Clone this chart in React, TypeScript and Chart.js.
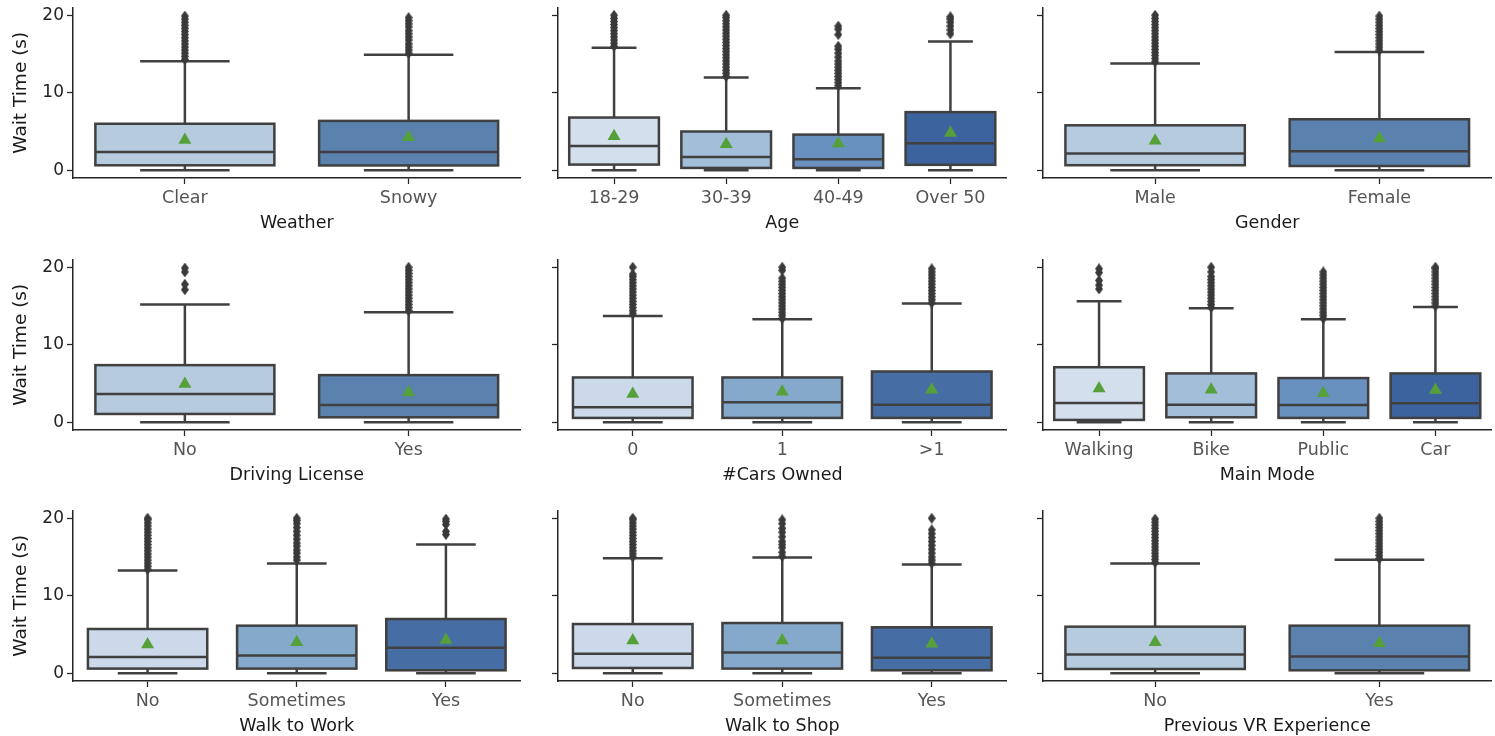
import React, { useEffect, useRef } from 'react';
import { Chart, registerables } from 'chart.js';
Chart.register(...registerables);

// ---------- data ----------
const yTicks = [0, 10, 20];

const weatherCats = ['Clear', 'Snowy'];
const weatherQ1 = [0.64, 0.62];
const weatherMed = [2.36, 2.36];
const weatherQ3 = [6.0, 6.37];
const weatherLo = [0, 0];
const weatherHi = [14.06, 14.9];
const weatherMean = [3.9, 4.25];
const weatherOut = [
  [14.3, 14.7, 15.1, 15.5, 15.9, 16.3, 16.7, 17.1, 17.5, 17.9, 18.3, 18.7, 19.1, 19.5, 19.9],
  [15.1, 15.5, 15.9, 16.3, 16.8, 17.2, 17.6, 18.0, 18.5, 18.9, 19.3, 19.7],
];

const ageCats = ['18-29', '30-39', '40-49', 'Over 50'];
const ageQ1 = [0.73, 0.3, 0.3, 0.7];
const ageMed = [3.14, 1.72, 1.42, 3.5];
const ageQ3 = [6.8, 5.0, 4.6, 7.5];
const ageLo = [0, 0, 0, 0];
const ageHi = [15.8, 11.96, 10.58, 16.6];
const ageMean = [4.4, 3.35, 3.44, 4.8];
const ageOut = [
  [16.0, 16.4, 16.8, 17.2, 17.6, 18.0, 18.4, 18.8, 19.2, 19.6, 20.0],
  [12.1, 12.5, 12.9, 13.3, 13.7, 14.1, 14.5, 14.9, 15.3, 15.7, 16.1, 16.5, 16.9, 17.3, 17.7, 18.1, 18.5, 18.9, 19.3, 19.7, 20.0],
  [10.9, 11.3, 11.7, 12.1, 12.5, 12.9, 13.3, 13.7, 14.1, 14.6, 15.1, 15.6, 16.0, 17.5, 18.2, 18.6],
  [17.6, 18.1, 18.6, 19.1, 19.5, 19.8],
];

const genderCats = ['Male', 'Female'];
const genderQ1 = [0.65, 0.55];
const genderMed = [2.15, 2.45];
const genderQ3 = [5.8, 6.58];
const genderLo = [0, 0];
const genderHi = [13.76, 15.27];
const genderMean = [3.8, 4.1];
const genderOut = [
  [14.0, 14.4, 14.8, 15.2, 15.6, 16.0, 16.4, 16.8, 17.2, 17.6, 18.0, 18.4, 18.8, 19.2, 19.6, 20.0],
  [15.5, 15.9, 16.3, 16.7, 17.1, 17.5, 17.9, 18.3, 18.7, 19.1, 19.5, 19.9],
];

const licenseCats = ['No', 'Yes'];
const licenseQ1 = [1.07, 0.64];
const licenseMed = [3.64, 2.23];
const licenseQ3 = [7.37, 6.08];
const licenseLo = [0, 0];
const licenseHi = [15.2, 14.2];
const licenseMean = [4.93, 3.85];
const licenseOut = [
  [17.1, 17.8, 19.4, 19.9],
  [14.4, 14.8, 15.2, 15.6, 16.0, 16.4, 16.8, 17.2, 17.6, 18.0, 18.4, 18.8, 19.2, 19.6, 20.0],
];

const carsCats = ['0', '1', '>1'];
const carsQ1 = [0.56, 0.56, 0.56];
const carsMed = [1.93, 2.57, 2.27];
const carsQ3 = [5.78, 5.78, 6.55];
const carsLo = [0, 0, 0];
const carsHi = [13.7, 13.3, 15.33];
const carsMean = [3.64, 3.94, 4.2];
const carsOut = [
  [14.0, 14.4, 14.8, 15.2, 15.6, 16.0, 16.4, 16.8, 17.2, 17.6, 18.0, 18.4, 18.8, 19.1, 20.0],
  [13.4, 13.8, 14.2, 14.6, 15.0, 15.4, 15.8, 16.2, 16.6, 17.0, 17.4, 17.8, 18.2, 18.6, 19.6, 20.0],
  [15.4, 15.8, 16.2, 16.6, 17.0, 17.4, 17.8, 18.2, 18.6, 19.0, 19.4, 19.8],
];

const modeCats = ['Walking', 'Bike', 'Public', 'Car'];
const modeQ1 = [0.3, 0.64, 0.56, 0.56];
const modeMed = [2.48, 2.27, 2.23, 2.44];
const modeQ3 = [7.1, 6.3, 5.7, 6.3];
const modeLo = [0, 0, 0, 0];
const modeHi = [15.6, 14.7, 13.28, 14.86];
const modeMean = [4.37, 4.2, 3.73, 4.15];
const modeOut = [
  [17.2, 17.7, 18.3, 19.3, 19.8],
  [14.8, 15.2, 15.6, 16.0, 16.4, 16.8, 17.2, 17.6, 18.0, 18.4, 18.8, 19.4, 20.0],
  [13.4, 13.8, 14.2, 14.6, 15.0, 15.4, 15.8, 16.2, 16.6, 17.0, 17.4, 17.8, 18.2, 18.6, 19.0, 19.4],
  [15.0, 15.4, 15.8, 16.2, 16.6, 17.0, 17.4, 17.8, 18.2, 18.6, 19.0, 19.4, 19.8, 20.0],
];

const workCats = ['No', 'Sometimes', 'Yes'];
const workQ1 = [0.6, 0.6, 0.38];
const workMed = [2.09, 2.3, 3.28];
const workQ3 = [5.71, 6.14, 7.0];
const workLo = [0, 0, 0];
const workHi = [13.26, 14.16, 16.6];
const workMean = [3.71, 4.0, 4.3];
const workOut = [
  [13.4, 13.8, 14.2, 14.6, 15.0, 15.4, 15.8, 16.2, 16.6, 17.0, 17.4, 17.8, 18.2, 18.6, 19.0, 19.4, 19.8, 20.0],
  [14.6, 15.0, 15.5, 15.9, 16.4, 16.8, 17.3, 17.8, 18.3, 18.8, 19.3, 19.7, 20.0],
  [17.9, 18.3, 19.2, 19.6, 19.9],
];

const shopCats = ['No', 'Sometimes', 'Yes'];
const shopQ1 = [0.68, 0.6, 0.38];
const shopMed = [2.52, 2.69, 2.0];
const shopQ3 = [6.35, 6.48, 5.93];
const shopLo = [0, 0, 0];
const shopHi = [14.84, 14.93, 14.03];
const shopMean = [4.22, 4.22, 3.8];
const shopOut = [
  [15.0, 15.4, 15.8, 16.2, 16.6, 17.0, 17.4, 17.8, 18.2, 18.6, 19.0, 19.4, 19.8, 20.0],
  [15.1, 15.6, 16.2, 16.6, 17.0, 17.6, 18.2, 18.7, 19.3, 19.8],
  [14.2, 14.6, 15.0, 15.5, 16.0, 16.5, 17.0, 17.5, 18.0, 18.5, 20.0],
];

const vrCats = ['No', 'Yes'];
const vrQ1 = [0.55, 0.38];
const vrMed = [2.43, 2.17];
const vrQ3 = [6.01, 6.14];
const vrLo = [0, 0];
const vrHi = [14.16, 14.63];
const vrMean = [4.0, 3.88];
const vrOut = [
  [14.3, 14.7, 15.1, 15.5, 15.9, 16.3, 16.7, 17.1, 17.5, 17.9, 18.3, 18.7, 19.1, 19.5, 19.9],
  [14.8, 15.2, 15.6, 16.0, 16.4, 16.8, 17.2, 17.6, 18.0, 18.4, 18.8, 19.2, 19.6, 20.0],
];

const PAL2 = ['#b7cbde', '#5b81ae'];
const PAL3 = ['#cbd9ea', '#84a9cb', '#466ea4'];
const PAL4 = ['#d3dfed', '#a3bed8', '#6891bf', '#3d639e'];

type Panel = {
  title: string; cats: string[]; q1: number[]; med: number[]; q3: number[];
  lo: number[]; hi: number[]; mean: number[]; out: number[][]; colors: string[];
  col: number; row: number;
};

const panels: Panel[] = [
  { title: 'Weather', cats: weatherCats, q1: weatherQ1, med: weatherMed, q3: weatherQ3, lo: weatherLo, hi: weatherHi, mean: weatherMean, out: weatherOut, colors: PAL2, col: 0, row: 0 },
  { title: 'Age', cats: ageCats, q1: ageQ1, med: ageMed, q3: ageQ3, lo: ageLo, hi: ageHi, mean: ageMean, out: ageOut, colors: PAL4, col: 1, row: 0 },
  { title: 'Gender', cats: genderCats, q1: genderQ1, med: genderMed, q3: genderQ3, lo: genderLo, hi: genderHi, mean: genderMean, out: genderOut, colors: PAL2, col: 2, row: 0 },
  { title: 'Driving License', cats: licenseCats, q1: licenseQ1, med: licenseMed, q3: licenseQ3, lo: licenseLo, hi: licenseHi, mean: licenseMean, out: licenseOut, colors: PAL2, col: 0, row: 1 },
  { title: '#Cars Owned', cats: carsCats, q1: carsQ1, med: carsMed, q3: carsQ3, lo: carsLo, hi: carsHi, mean: carsMean, out: carsOut, colors: PAL3, col: 1, row: 1 },
  { title: 'Main Mode', cats: modeCats, q1: modeQ1, med: modeMed, q3: modeQ3, lo: modeLo, hi: modeHi, mean: modeMean, out: modeOut, colors: PAL4, col: 2, row: 1 },
  { title: 'Walk to Work', cats: workCats, q1: workQ1, med: workMed, q3: workQ3, lo: workLo, hi: workHi, mean: workMean, out: workOut, colors: PAL3, col: 0, row: 2 },
  { title: 'Walk to Shop', cats: shopCats, q1: shopQ1, med: shopMed, q3: shopQ3, lo: shopLo, hi: shopHi, mean: shopMean, out: shopOut, colors: PAL3, col: 1, row: 2 },
  { title: 'Previous VR Experience', cats: vrCats, q1: vrQ1, med: vrMed, q3: vrQ3, lo: vrLo, hi: vrHi, mean: vrMean, out: vrOut, colors: PAL2, col: 2, row: 2 },
];

// ---------- layout ----------
const COLS = [
  { left: 0, width: 528, yW: 73, padR: 2 },
  { left: 528, width: 486, yW: 30, padR: 2 },
  { left: 1014, width: 485, yW: 29, padR: 2 },
];
const ROW_TOPS = [0, 252, 503];
const CANVAS_H = 233;
const X_AXIS_H = 55;
const PAD_TOP = 7;

const EDGE = '#404040';
const SPINE = '#262626';
const MEAN_COLOR = '#56a03a';
const FONT = "'DejaVu Sans', sans-serif";

function makeDiamond(): HTMLCanvasElement {
  const c = document.createElement('canvas');
  c.width = 8;
  c.height = 11;
  const g = c.getContext('2d')!;
  g.fillStyle = '#3a3a3a';
  g.beginPath();
  g.moveTo(4, 0);
  g.lineTo(8, 5.5);
  g.lineTo(4, 11);
  g.lineTo(0, 5.5);
  g.closePath();
  g.fill();
  return c;
}

function boxPlugin(p: Panel) {
  return {
    id: 'boxWhiskers',
    beforeDatasetsDraw(chart: any) {
      const ctx = chart.ctx;
      const y = chart.scales.y;
      const meta = chart.getDatasetMeta(0);
      ctx.save();
      ctx.strokeStyle = EDGE;
      ctx.lineWidth = 2.5;
      p.cats.forEach((_, i) => {
        const bar = meta.data[i];
        if (!bar) return;
        const cx = bar.x;
        const half = bar.width * 0.25;
        const yHi = y.getPixelForValue(p.hi[i]);
        const yLo = y.getPixelForValue(p.lo[i]);
        ctx.beginPath();
        ctx.moveTo(cx, y.getPixelForValue(p.q3[i]));
        ctx.lineTo(cx, yHi);
        ctx.moveTo(cx - half, yHi);
        ctx.lineTo(cx + half, yHi);
        ctx.moveTo(cx, y.getPixelForValue(p.q1[i]));
        ctx.lineTo(cx, yLo);
        ctx.moveTo(cx - half, yLo);
        ctx.lineTo(cx + half, yLo);
        ctx.stroke();
      });
      ctx.restore();
    },
    afterDatasetDraw(chart: any, args: any) {
      if (args.index !== 0) return;
      const ctx = chart.ctx;
      const y = chart.scales.y;
      const meta = chart.getDatasetMeta(0);
      ctx.save();
      ctx.strokeStyle = EDGE;
      ctx.lineWidth = 2.5;
      ctx.lineJoin = 'miter';
      p.cats.forEach((_, i) => {
        const bar = meta.data[i];
        if (!bar) return;
        const left = bar.x - bar.width / 2;
        const top = y.getPixelForValue(p.q3[i]);
        const bottom = y.getPixelForValue(p.q1[i]);
        ctx.strokeRect(left, top, bar.width, bottom - top);
        const ym = y.getPixelForValue(p.med[i]);
        ctx.beginPath();
        ctx.moveTo(left, ym);
        ctx.lineTo(left + bar.width, ym);
        ctx.stroke();
      });
      ctx.restore();
    },
  };
}

function PanelChart({ p }: { p: Panel }) {
  const ref = useRef<HTMLCanvasElement>(null);
  const col = COLS[p.col];
  useEffect(() => {
    if (!ref.current) return;
    const diamond = makeDiamond();
    const outData: { x: string; y: number }[] = [];
    p.out.forEach((vals, i) => vals.forEach((v) => outData.push({ x: p.cats[i], y: v })));
    const meanData = p.mean.map((v, i) => ({ x: p.cats[i], y: v }));
    const chart = new Chart(ref.current, {
      type: 'bar',
      data: {
        labels: p.cats,
        datasets: [
          {
            type: 'bar',
            data: p.cats.map((_, i) => [p.q1[i], p.q3[i]]),
            backgroundColor: p.colors,
            borderWidth: 0,
            barPercentage: 0.8,
            categoryPercentage: 1.0,
            order: 3,
          } as any,
          {
            type: 'scatter',
            data: outData,
            pointStyle: diamond,
            radius: 4,
            order: 2,
          } as any,
          {
            type: 'scatter',
            data: meanData,
            pointStyle: 'triangle',
            radius: 7.5,
            backgroundColor: MEAN_COLOR,
            borderWidth: 0,
            order: 1,
          } as any,
        ],
      },
      options: {
        responsive: false,
        animation: false,
        events: [],
        layout: { padding: { top: PAD_TOP, right: col.padR, left: 0, bottom: 0 } },
        plugins: { legend: { display: false }, tooltip: { enabled: false } },
        scales: {
          x: {
            type: 'category',
            offset: true,
            grid: { display: true, drawOnChartArea: false, drawTicks: true, tickLength: 6, tickColor: SPINE, tickWidth: 1.25, offset: false },
            border: { display: true, color: SPINE, width: 1.5 },
            ticks: { color: '#555555', font: { family: FONT, size: 17.5 }, padding: 4, maxRotation: 0, autoSkip: false },
            title: { display: true, text: p.title, color: '#1a1a1a', font: { family: FONT, size: 17.5 }, padding: { top: 0, bottom: -1 } },
            afterFit: (s: any) => { s.height = X_AXIS_H; s.paddingLeft = 0; s.paddingRight = 0; },
          },
          y: {
            type: 'linear',
            min: -1,
            max: 21,
            afterBuildTicks: (s: any) => { s.ticks = yTicks.map((v) => ({ value: v })); },
            grid: { display: true, drawOnChartArea: false, drawTicks: true, tickLength: 6, tickColor: SPINE, tickWidth: 1.25 },
            border: { display: true, color: SPINE, width: 1.5 },
            ticks: {
              display: p.col === 0,
              color: '#222222',
              font: { family: FONT, size: 17 },
              padding: 3,
            },
            title: {
              display: p.col === 0,
              text: 'Wait Time (s)',
              color: '#1a1a1a',
              font: { family: FONT, size: 18.5 },
              padding: { top: 10, bottom: 0 },
            },
            afterFit: (s: any) => { s.width = col.yW; s.paddingTop = 0; s.paddingBottom = 0; },
          },
        },
      } as any,
      plugins: [boxPlugin(p)],
    });
    return () => chart.destroy();
  }, [p]);
  return (
    <canvas
      ref={ref}
      width={col.width}
      height={CANVAS_H}
      style={{ position: 'absolute', left: col.left, top: ROW_TOPS[p.row], width: col.width, height: CANVAS_H }}
    />
  );
}

export default function App() {
  return (
    <div style={{ position: 'absolute', left: 0, top: 0, width: 1495, height: 736, background: '#ffffff', overflow: 'hidden' }}>
      {panels.map((p, i) => (
        <PanelChart key={i} p={p} />
      ))}
    </div>
  );
}
